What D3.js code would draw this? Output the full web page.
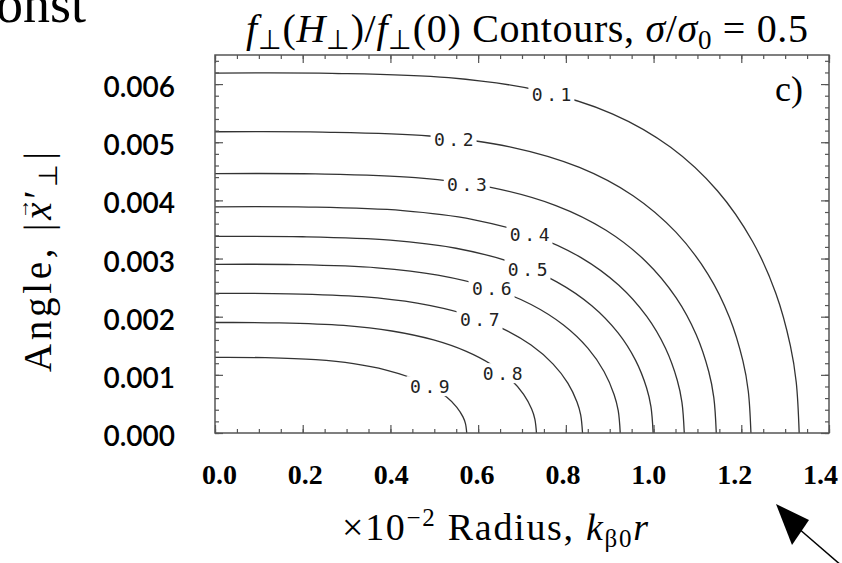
<!DOCTYPE html>
<html><head><meta charset="utf-8">
<script src="https://cdn.jsdelivr.net/npm/d3@7"></script>
<style>body{margin:0;background:#fff}svg{display:block}</style>
</head><body>
<svg id="chart" width="842" height="563"></svg>
<script>
// ---- data ----
const xDomain = [0, 1.4];
const yDomain = [0, 0.0065];
const xTickValues = [0.0, 0.2, 0.4, 0.6, 0.8, 1.0, 1.2, 1.4];
const yTickValues = [0.000, 0.001, 0.002, 0.003, 0.004, 0.005, 0.006];
const contourLevels = [0.1, 0.2, 0.3, 0.4, 0.5, 0.6, 0.7, 0.8, 0.9];

const contour01X = [0, 0.2664, 0.5328, 0.7326, 0.9058, 1.0390, 1.1455, 1.2254, 1.2787, 1.3120, 1.3253, 1.332];
const contour01Y = [0.00619, 0.006185, 0.006110, 0.005898, 0.005489, 0.004913, 0.004166, 0.003297, 0.002402, 0.001499, 0.000873, 0];
const contour02X = [0, 0.2444, 0.4888, 0.6721, 0.8310, 0.9532, 1.0509, 1.1242, 1.1731, 1.2037, 1.2159, 1.222];
const contour02Y = [0.00518, 0.005175, 0.005107, 0.004922, 0.004568, 0.004081, 0.003454, 0.002729, 0.001987, 0.001239, 0.000722, 0];
const contour03X = [0, 0.2286, 0.4572, 0.6287, 0.7772, 0.8915, 0.9830, 1.0516, 1.0973, 1.1259, 1.1373, 1.143];
const contour03Y = [0.00446, 0.004455, 0.004391, 0.004224, 0.003911, 0.003486, 0.002946, 0.002324, 0.001690, 0.001053, 0.000613, 0];
const contour04X = [0, 0.214, 0.428, 0.5885, 0.7276, 0.8346, 0.9202, 0.9844, 1.0272, 1.0540, 1.0647, 1.070];
const contour04Y = [0.00389, 0.003885, 0.003824, 0.003671, 0.003391, 0.003016, 0.002544, 0.002004, 0.001456, 0.000907, 0.000527, 0];
const contour05X = [0, 0.1998, 0.3996, 0.5495, 0.6793, 0.7792, 0.8591, 0.9191, 0.9590, 0.9840, 0.9940, 0.999];
const contour05Y = [0.00338, 0.003375, 0.003317, 0.003177, 0.002928, 0.002599, 0.002188, 0.001721, 0.001249, 0.000778, 0.000452, 0];
const contour06X = [0, 0.1848, 0.3696, 0.5082, 0.6283, 0.7207, 0.7946, 0.8501, 0.8870, 0.9101, 0.9194, 0.924];
const contour06Y = [0.00290, 0.002895, 0.002841, 0.002715, 0.002496, 0.002210, 0.001857, 0.001459, 0.001058, 0.000658, 0.000383, 0];
const contour07X = [0, 0.1676, 0.3352, 0.4609, 0.5698, 0.6536, 0.7207, 0.7710, 0.8045, 0.8254, 0.8338, 0.838];
const contour07Y = [0.00240, 0.002394, 0.002344, 0.002232, 0.002044, 0.001804, 0.001512, 0.001185, 0.000858, 0.000533, 0.000310, 0];
const contour08X = [0, 0.1466, 0.2932, 0.4032, 0.4984, 0.5717, 0.6304, 0.6744, 0.7037, 0.7220, 0.7293, 0.733];
const contour08Y = [0.00190, 0.001894, 0.001849, 0.001754, 0.001600, 0.001407, 0.001176, 0.000919, 0.000665, 0.000413, 0.000240, 0];
const contour09X = [0, 0.1148, 0.2296, 0.3157, 0.3903, 0.4477, 0.4936, 0.5281, 0.5510, 0.5654, 0.5711, 0.574];
const contour09Y = [0.00130, 0.001295, 0.001260, 0.001192, 0.001083, 0.000950, 0.000791, 0.000618, 0.000446, 0.000277, 0.000161, 0];

// x position (data units) where each level's label sits on its line
const labelAtX = [0.767, 0.544, 0.574, 0.717, 0.7125, 0.6306, 0.6032, 0.6556, 0.4894];

// ---- layout ----
const svg = d3.select("#chart");
const L = 215, R = 829, T = 55, B = 433;
const x = d3.scaleLinear().domain(xDomain).range([L, R]);
const y = d3.scaleLinear().domain(yDomain).range([B, T]);
// tick labels in the reference sit on a slightly narrower span than the frame
const xLab = d3.scaleLinear().domain(xDomain).range([L + 4, R - 9]);

const contoursX = [contour01X, contour02X, contour03X, contour04X, contour05X, contour06X, contour07X, contour08X, contour09X];
const contoursY = [contour01Y, contour02Y, contour03Y, contour04Y, contour05Y, contour06Y, contour07Y, contour08Y, contour09Y];
const contours = contourLevels.map((lv, i) => ({
  level: lv,
  pts: contoursX[i].map((xv, j) => [xv, contoursY[i][j]]),
  labelX: labelAtX[i]
}));

const line = d3.line().x(d => x(d[0])).y(d => y(d[1])).curve(d3.curveCatmullRom.alpha(0.5));

const ink = "#333";
svg.append("g").selectAll("path").data(contours).join("path")
  .attr("d", d => line(d.pts))
  .attr("fill", "none").attr("stroke", ink).attr("stroke-width", 1.3);

function yOnLine(pts, xv) {
  for (let j = 0; j < pts.length - 1; j++) {
    const a = pts[j], b = pts[j + 1];
    if (xv >= a[0] && xv <= b[0]) {
      const t = (xv - a[0]) / (b[0] - a[0]);
      return a[1] + t * (b[1] - a[1]);
    }
  }
  return pts[0][1];
}
const lg = svg.append("g").selectAll("g").data(contours).join("g")
  .attr("transform", d => `translate(${x(d.labelX)},${y(yOnLine(d.pts, d.labelX))})`);
lg.append("rect").attr("x", -23).attr("y", -10).attr("width", 46).attr("height", 20).attr("fill", "#fff");
lg.append("text")
  .attr("text-anchor", "middle").attr("dy", "0.36em").attr("dx", 2)
  .style("font-family", "'DejaVu Sans Mono', monospace").style("font-size", "18px")
  .style("letter-spacing", "3.6px").attr("fill", "#222")
  .text(d => d3.format(".1f")(d.level));

// frame
svg.append("rect").attr("x", L).attr("y", T).attr("width", R - L).attr("height", B - T)
  .attr("fill", "none").attr("stroke", "#555").attr("stroke-width", 1.5);

const xMinor = d3.range(0, 28 + 1).map(k => k * 0.05);
const yMinor = d3.range(0, 32 + 1).map(k => k * 0.0002);

function tickAxis(axisFn, scale, vals, size, tr) {
  const g = svg.append("g").attr("transform", tr)
    .call(axisFn(scale).tickValues(vals).tickSize(-size).tickFormat(""));
  g.select(".domain").remove();
  g.selectAll("line").attr("stroke", "#555").attr("stroke-width", 1.2);
  return g;
}
tickAxis(d3.axisBottom, x, xMinor, 4, `translate(0,${B})`);
tickAxis(d3.axisTop, x, xMinor, 4, `translate(0,${T})`);
tickAxis(d3.axisLeft, y, yMinor, 4, `translate(${L},0)`);
tickAxis(d3.axisRight, y, yMinor, 4, `translate(${R},0)`);
tickAxis(d3.axisTop, x, xTickValues, 8, `translate(0,${T})`);
tickAxis(d3.axisRight, y, yTickValues, 8, `translate(${R},0)`);
tickAxis(d3.axisBottom, x, xTickValues, 8, `translate(0,${B})`);

const serif = "'Liberation Serif', 'Times New Roman', serif";

// bottom tick labels
const gx = svg.append("g").attr("transform", `translate(0,${B})`)
  .call(d3.axisBottom(xLab).tickValues(xTickValues).tickSize(0).tickPadding(31).tickFormat(d3.format(".1f")));
gx.select(".domain").remove();
gx.selectAll("line").remove();
gx.selectAll("text")
  .style("font-family", serif).style("font-weight", "bold")
  .style("font-size", "28px").attr("fill", "#000");

// left axis with labels
const gy = svg.append("g").attr("transform", `translate(${L},0)`)
  .call(d3.axisLeft(y).tickValues(yTickValues).tickSize(-8).tickPadding(40).tickFormat(d3.format(".3f")));
gy.select(".domain").remove();
gy.selectAll("line").attr("stroke", "#555").attr("stroke-width", 1.2);
gy.selectAll("text").attr("dy", "0.45em")
  .style("font-family", "Lato, 'Open Sans', sans-serif").style("font-size", "28px")
  .style("font-weight", "600").attr("fill", "#000");

// texts
function tsp(parent, txt, opts = {}) {
  const t = parent.append("tspan").text(txt);
  if (opts.it) t.style("font-style", "italic");
  if (opts.sz) t.style("font-size", opts.sz);
  if (opts.dy) t.attr("dy", opts.dy);
  return t;
}
const title = svg.append("text").attr("x", 527).attr("y", 42).attr("text-anchor", "middle")
  .attr("textLength", 562).attr("lengthAdjust", "spacing")
  .style("font-family", serif).style("font-size", "40px").attr("fill", "#000");
tsp(title, "f", {it: 1}); tsp(title, "⊥", {sz: "27px", dy: 7}); tsp(title, "(", {dy: -7});
tsp(title, "H", {it: 1}); tsp(title, "⊥", {sz: "27px", dy: 7}); tsp(title, ")/", {dy: -7});
tsp(title, "f", {it: 1}); tsp(title, "⊥", {sz: "27px", dy: 7}); tsp(title, "(0) Contours, ", {dy: -7});
tsp(title, "σ", {it: 1}); tsp(title, "/"); tsp(title, "σ", {it: 1});
tsp(title, "0", {sz: "27px", dy: 7}); tsp(title, " = 0.5", {dy: -7});

svg.append("text").attr("x", -4).attr("y", 22)
  .style("font-family", serif).style("font-size", "54px").attr("fill", "#000").text("onst");

svg.append("text").attr("x", 775).attr("y", 101)
  .style("font-family", serif).style("font-size", "36px").attr("fill", "#000").text("c)");

// y axis title (rotated), with a vector arrow over x
const ylg = svg.append("g").attr("transform", "translate(51,262) rotate(-90)");
const yl = ylg.append("text").attr("x", 0).attr("y", 0).attr("text-anchor", "middle")
  .attr("textLength", 220).attr("lengthAdjust", "spacing")
  .style("font-family", serif).style("font-size", "39px").attr("fill", "#000");
const pre = "Angle, |";
tsp(yl, pre); tsp(yl, "x", {it: 1}); tsp(yl, "′"); tsp(yl, "⊥", {sz: "26px", dy: 6}); tsp(yl, "|", {dy: -6});
const xi = pre.length;
const p0 = yl.node().getStartPositionOfChar(xi), p1 = yl.node().getEndPositionOfChar(xi);
ylg.append("text").attr("x", (p0.x + p1.x) / 2 + 2).attr("y", p0.y - 22).attr("text-anchor", "middle")
  .style("font-family", serif).style("font-size", "20px").attr("fill", "#000").text("→");

const xl = svg.append("text").attr("x", 495).attr("y", 540).attr("text-anchor", "middle")
  .attr("textLength", 306).attr("lengthAdjust", "spacing")
  .style("font-family", serif).style("font-size", "38px").attr("fill", "#000");
tsp(xl, "×10"); tsp(xl, "−2", {sz: "25px", dy: -14}); tsp(xl, " Radius, ", {dy: 14});
tsp(xl, "k", {it: 1}); tsp(xl, "β0", {sz: "25px", dy: 7}); tsp(xl, "r", {it: 1, dy: -7});

// arrow annotation
svg.append("line").attr("x1", 842).attr("y1", 566).attr("x2", 798).attr("y2", 528)
  .attr("stroke", "#000").attr("stroke-width", 1.5);
svg.append("path").attr("d", "M776,504 L809,520 L792,545 Z").attr("fill", "#000");
</script>
</body></html>
